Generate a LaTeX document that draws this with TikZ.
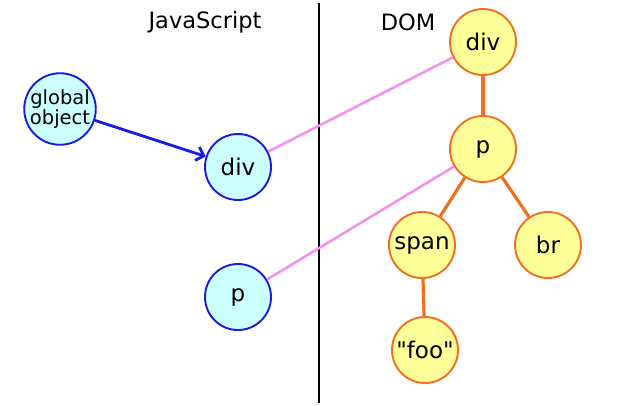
\documentclass[tikz,border=0pt]{standalone}
\usepackage{fontspec}
\setmainfont{DejaVu Sans}[Ligatures=TeXOff]
\usetikzlibrary{arrows.meta}
\definecolor{jsfill}{HTML}{CCFFFF}
\definecolor{jsdraw}{HTML}{1A1AE0}
\definecolor{domfill}{HTML}{FFFF99}
\definecolor{domdraw}{HTML}{F07020}
\definecolor{pinkline}{HTML}{F490F4}
\begin{document}
\begin{tikzpicture}[x=1pt,y=-1pt,
  jsnode/.style={circle,draw=jsdraw,fill=jsfill,line width=1.9pt,minimum size=66pt,inner sep=0pt,font=\fontsize{23}{25}\selectfont},
  domnode/.style={circle,draw=domdraw,fill=domfill,line width=1.9pt,minimum size=66pt,inner sep=0pt,font=\fontsize{23}{25}\selectfont},
  treeedge/.style={draw=domdraw,line width=3.2pt},
  linkedge/.style={draw=pinkline,line width=2.6pt},
  title/.style={font=\fontsize{22.5}{25}\selectfont}]
\useasboundingbox (0,0) rectangle (639,405);
\coordinate (sepTop) at (319,3);
\coordinate (sepBot) at (319,403);
\draw[line width=1.8pt] (sepTop) -- (sepBot);
\node[title] (jstitle) at (205,22) {JavaScript};
\node[title] (domtitle) at (408,22) {DOM};
\node[jsnode,font=\fontsize{19.5}{20}\selectfont,align=center] (global) at (60,109) {global\\object};
\node[jsnode] (jsdiv) at (238,167) {div};
\node[jsnode] (jsp) at (238,297) {p};
\node[domnode] (ddiv) at (483,42) {div};
\node[domnode] (dp) at (483,149) {p};
\node[domnode] (span) at (422,245) {span};
\node[domnode] (br) at (548,245) {br};
\node[domnode] (foo) at (425,350) {"foo"};
\draw[treeedge] (ddiv) -- (dp);
\draw[treeedge] (dp) -- (span);
\draw[treeedge] (dp) -- (br);
\draw[treeedge] (span) -- (foo);
\draw[linkedge] (jsdiv) -- (ddiv);
\draw[linkedge] (jsp) -- (dp);
\draw[draw=jsdraw,line width=2.8pt,-{Straight Barb[length=7pt,width=14pt]}] (global) -- (jsdiv);
\end{tikzpicture}
\end{document}
